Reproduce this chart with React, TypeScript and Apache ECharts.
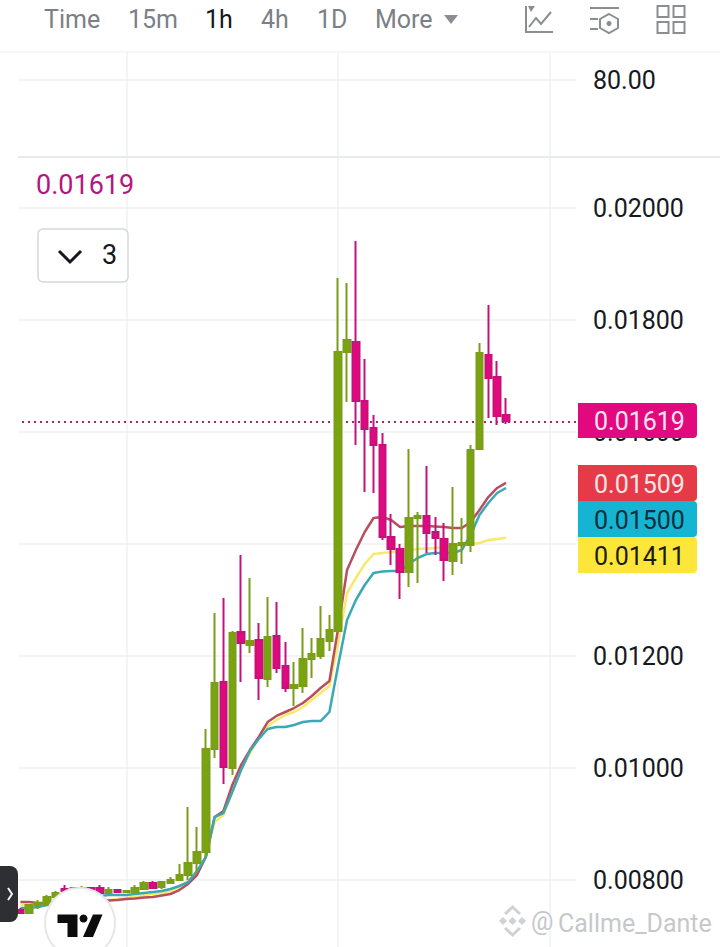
import React, { useEffect, useRef } from "react";
import * as echarts from "echarts";

const categories: string[] = Array.from({ length: 64 }, (_, i) => String(i));

// [open, close, low, high]
const candles: number[][] = [
  [0.007464, 0.007411, 0.007393, 0.0075],
  [0.007411, 0.007554, 0.007393, 0.007554],
  [0.007554, 0.007589, 0.007482, 0.007643],
  [0.007571, 0.007696, 0.007536, 0.007732],
  [0.007696, 0.007768, 0.007679, 0.007804],
  [0.007839, 0.007804, 0.007786, 0.007911],
  [0.007804, 0.007857, 0.007786, 0.007875],
  [0.007821, 0.007857, 0.007804, 0.007893],
  [0.007857, 0.007839, 0.007821, 0.007875],
  [0.007857, 0.007768, 0.00775, 0.007911],
  [0.007768, 0.007821, 0.00775, 0.007875],
  [0.007821, 0.007786, 0.007768, 0.007839],
  [0.007786, 0.007804, 0.007786, 0.007821],
  [0.007786, 0.007857, 0.007786, 0.007911],
  [0.007839, 0.007946, 0.007821, 0.007982],
  [0.007946, 0.007857, 0.007857, 0.007982],
  [0.007875, 0.007964, 0.007839, 0.007964],
  [0.007946, 0.008, 0.007946, 0.008054],
  [0.008, 0.008089, 0.008, 0.008286],
  [0.008089, 0.008304, 0.008, 0.009304],
  [0.008304, 0.0085, 0.008125, 0.008946],
  [0.0085, 0.010339, 0.008411, 0.010696],
  [0.010339, 0.011518, 0.010179, 0.012768],
  [0.011536, 0.010018, 0.009714, 0.013036],
  [0.01, 0.012411, 0.009875, 0.012446],
  [0.012429, 0.012232, 0.011536, 0.013804],
  [0.012196, 0.012268, 0.012054, 0.013393],
  [0.012286, 0.011607, 0.011214, 0.012589],
  [0.011589, 0.012339, 0.011446, 0.013054],
  [0.012357, 0.011786, 0.011696, 0.012964],
  [0.011821, 0.011429, 0.011357, 0.01225],
  [0.011429, 0.011482, 0.011107, 0.011893],
  [0.011464, 0.011946, 0.011339, 0.0125],
  [0.011946, 0.012036, 0.011607, 0.012321],
  [0.012, 0.012304, 0.011946, 0.012893],
  [0.012268, 0.012464, 0.012089, 0.012732],
  [0.012446, 0.017429, 0.012446, 0.01875],
  [0.017429, 0.017643, 0.016536, 0.018661],
  [0.017607, 0.016554, 0.015768, 0.019411],
  [0.016554, 0.016054, 0.014929, 0.017304],
  [0.016071, 0.015768, 0.014911, 0.016304],
  [0.015768, 0.014125, 0.014071, 0.015982],
  [0.014125, 0.013911, 0.013625, 0.014536],
  [0.013911, 0.0135, 0.013018, 0.014],
  [0.0135, 0.014464, 0.013232, 0.015696],
  [0.014464, 0.0145, 0.013304, 0.014571],
  [0.0145, 0.014196, 0.013839, 0.015393],
  [0.014214, 0.014107, 0.013804, 0.014482],
  [0.014089, 0.013714, 0.013339, 0.014375],
  [0.013696, 0.014, 0.013446, 0.015018],
  [0.013982, 0.014018, 0.013643, 0.014464],
  [0.013982, 0.015679, 0.013857, 0.015768],
  [0.015696, 0.017411, 0.015696, 0.017589],
  [0.017375, 0.016964, 0.01625, 0.018268],
  [0.016982, 0.016286, 0.016125, 0.017268],
  [0.016304, 0.01619, 0.016143, 0.016607],
];

const redLine: number[] = [
  0.007607, 0.007607, 0.007589, 0.007589, 0.007589, 0.007607, 0.007607, 0.007607, 0.007625, 0.007625,
  0.007634, 0.007643, 0.007661, 0.00767, 0.007688, 0.007696, 0.007723, 0.00775, 0.007821, 0.007929,
  0.008089, 0.008411, 0.009125, 0.009232, 0.009696, 0.010054, 0.010321, 0.010554, 0.010821, 0.010929,
  0.011, 0.011071, 0.011161, 0.011286, 0.011429, 0.011554, 0.0125, 0.013536, 0.013893, 0.014214,
  0.014464, 0.014482, 0.014429, 0.014304, 0.014321, 0.014321, 0.014321, 0.014313, 0.014304, 0.014286,
  0.014286, 0.014393, 0.014607, 0.014839, 0.015, 0.01509,
];

const yellowLine: number[] = [
  0.007554, 0.007554, 0.007554, 0.007554, 0.007571, 0.007589, 0.007589, 0.007607, 0.007607, 0.007625,
  0.007643, 0.007661, 0.007679, 0.007696, 0.007732, 0.00775, 0.007768, 0.007804, 0.007875, 0.007982,
  0.008125, 0.008411, 0.009036, 0.009161, 0.009571, 0.009964, 0.010268, 0.010536, 0.01075, 0.010857,
  0.010946, 0.011, 0.011089, 0.011214, 0.011339, 0.011464, 0.012232, 0.013125, 0.013393, 0.013643,
  0.013821, 0.013839, 0.013857, 0.013875, 0.013893, 0.013911, 0.01392, 0.013929, 0.013946, 0.013964,
  0.013982, 0.014, 0.014018, 0.014071, 0.014089, 0.01411,
];

const tealLine: number[] = [
  0.0075, 0.0075, 0.007518, 0.007554, 0.007589, 0.007607, 0.007643, 0.007661, 0.007696, 0.007714,
  0.007732, 0.007732, 0.007732, 0.00775, 0.007768, 0.007786, 0.007804, 0.007839, 0.007893, 0.007964,
  0.008161, 0.008411, 0.009125, 0.009196, 0.009571, 0.009964, 0.010304, 0.010518, 0.010696, 0.010732,
  0.010732, 0.010768, 0.010821, 0.010839, 0.010839, 0.011, 0.011839, 0.012643, 0.013, 0.013268,
  0.013482, 0.013509, 0.013518, 0.013518, 0.013643, 0.01375, 0.013821, 0.013839, 0.013839, 0.013839,
  0.013893, 0.014161, 0.014518, 0.014732, 0.014911, 0.015,
];

const lastPrice = 0.01619;
const priceTags = [
  { label: "0.01619", fill: "#e2087e", text: "#fbe3f0", y: 403, h: 35 },
  { label: "0.01509", fill: "#e63a49", text: "#fbe6e6", y: 465, h: 36 },
  { label: "0.01500", fill: "#14b4d2", text: "#0c2f3c", y: 501, h: 36 },
  { label: "0.01411", fill: "#fde63a", text: "#1c1c10", y: 537, h: 36 },
];
const navItems = [
  { label: "Time", x: 44, color: "#7b8087" },
  { label: "15m", x: 128, color: "#7b8087" },
  { label: "1h", x: 205, color: "#15181c" },
  { label: "4h", x: 261, color: "#7b8087" },
  { label: "1D", x: 317, color: "#7b8087" },
  { label: "More", x: 375, color: "#7b8087" },
];

const FONT = "Roboto";
const GRID = "#eff0f2";
const ICON = "#8a8d92";
const MARK = "#cfd1d4";
const gridTick = (i: number) => i % 24 === 12;

const txt = (x: number, y: number, text: string, fill: string, size: number, extra: any = {}) => ({
  type: "text",
  x,
  y,
  z: 30,
  silent: true,
  style: { text, fill, font: `${size}px ${FONT}`, verticalAlign: "middle", align: "left", ...extra },
});
const ln = (x1: number, y1: number, x2: number, y2: number, stroke: string, lineWidth = 2, z = 30) => ({
  type: "line",
  z,
  silent: true,
  shape: { x1, y1, x2, y2 },
  style: { stroke, lineWidth },
});
const poly = (points: number[][], stroke: string, lineWidth = 2) => ({
  type: "polyline",
  z: 30,
  silent: true,
  shape: { points },
  style: { stroke, lineWidth, fill: "none" },
});
const box = (x: number, y: number, width: number, height: number, style: any, r: any = 0, z = 30) => ({
  type: "rect",
  z,
  silent: true,
  shape: { x, y, width, height, r },
  style,
});
const fillPoly = (points: number[][], fill: string, z = 31) => ({
  type: "polygon",
  z,
  silent: true,
  shape: { points },
  style: { fill },
});

const graphics: any[] = [
  // covers that trim the plot to the visible panel width
  box(0, 52, 18, 895, { fill: "#fff" }, 0, 8),
  box(576, 52, 8, 895, { fill: "#fff" }, 0, 8),
  ln(0, 52, 720, 52, "#f3f4f5", 1.5, 9),
  ln(18, 157, 720, 157, "#e9eaec", 2, 9),
  // navigation
  ...navItems.map((n) => txt(n.x, 19, n.label, n.color, 25)),
  fillPoly([[444, 15], [458, 15], [451, 24]], ICON, 30),
  poly([[526, 6], [526, 32], [553, 32]], ICON),
  fillPoly([[528, 6], [535, 6], [531, 12]], ICON, 30),
  poly([[529, 27], [536, 18], [541, 24], [551, 12]], ICON),
  ln(590, 8, 619, 8, ICON),
  ln(590, 19, 598, 19, ICON),
  ln(590, 29, 598, 29, ICON),
  {
    type: "polygon",
    z: 30,
    silent: true,
    shape: { points: [[609, 14], [618, 19], [618, 28], [609, 33], [600, 28], [600, 19]] },
    style: { stroke: ICON, lineWidth: 2, fill: "none" },
  },
  { type: "circle", z: 30, silent: true, shape: { cx: 609, cy: 23.5, r: 2.5 }, style: { fill: ICON } },
  box(657.5, 6, 11, 11, { stroke: ICON, lineWidth: 2, fill: "none" }),
  box(673.5, 6, 11, 11, { stroke: ICON, lineWidth: 2, fill: "none" }),
  box(657.5, 22, 11, 11, { stroke: ICON, lineWidth: 2, fill: "none" }),
  box(673.5, 22, 11, 11, { stroke: ICON, lineWidth: 2, fill: "none" }),
  // legend
  txt(36, 185, lastPrice.toFixed(5), "#b3177f", 27),
  box(38, 229, 90, 53, { fill: "#fff", stroke: "#d6d8db", lineWidth: 1.5 }, 5),
  poly([[59, 251], [70, 262], [81, 251]], "#15181c", 3),
  txt(102, 255, "3", "#15181c", 27),
  // price tags
  ...priceTags.flatMap((t) => [
    box(578, t.y, 119, t.h, { fill: t.fill }, [0, 4, 4, 0]),
    txt(594, t.y + t.h / 2 + 1, t.label, t.text, 25),
  ]),
  // side handle
  box(0, 866, 18, 56, { fill: "#2e2f33" }, [0, 8, 8, 0]),
  poly([[8, 888], [12, 894], [8, 900]], "#f2f2f2", 2),
  // TradingView badge
  { type: "circle", z: 30, silent: true, shape: { cx: 80, cy: 923, r: 35 }, style: { fill: "#fff", stroke: "#e6e7e8", lineWidth: 2 } },
  fillPoly([[57.5, 914.5], [77.5, 914.5], [77.5, 937], [67.5, 937], [67.5, 923], [57.5, 923]], "#0c0c0c"),
  { type: "circle", z: 31, silent: true, shape: { cx: 83.5, cy: 918.5, r: 4 }, style: { fill: "#0c0c0c" } },
  fillPoly([[93, 914.5], [102.5, 914.5], [93, 937], [83, 937]], "#0c0c0c"),
  // watermark
  fillPoly([[512.5, 917], [516.5, 921], [512.5, 925], [508.5, 921]], MARK),
  fillPoly([[503, 917], [507, 921], [503, 925], [499, 921]], MARK),
  fillPoly([[522, 917], [526, 921], [522, 925], [518, 921]], MARK),
  poly([[505, 914], [512.5, 907], [520, 914]], MARK, 3),
  poly([[505, 928], [512.5, 935], [520, 928]], MARK, 3),
  txt(531, 921, "@", "#c6c8cb", 25),
  txt(558, 923, "Callme_Dante", "#c6c8cb", 25),
];

export default function App() {
  const ref = useRef<HTMLDivElement>(null);
  useEffect(() => {
    const chart = echarts.init(ref.current!, null, { renderer: "svg" });
    const lineSeries = (name: string, data: number[], color: string, z: number) => ({
      name,
      type: "line",
      data,
      z,
      xAxisIndex: 0,
      yAxisIndex: 0,
      showSymbol: false,
      symbol: "none",
      silent: true,
      lineStyle: { color, width: 2.5 },
    });
    const labelStyle = {
      margin: 12,
      fontFamily: FONT,
      fontSize: 25,
      color: "#16191d",
      verticalAlign: "top",
      padding: [-12, 0, 0, 0],
      showMinLabel: false,
      showMaxLabel: false,
    };
    chart.setOption({
      animation: false,
      backgroundColor: "#fff",
      textStyle: { fontFamily: FONT },
      grid: [
        { left: 16, width: 565, top: 157, height: 835 },
        { left: 16, width: 565, top: 52, height: 105 },
      ],
      xAxis: [0, 1].map((gridIndex) => ({
        type: "category",
        gridIndex,
        data: categories,
        boundaryGap: true,
        axisLine: { show: false },
        axisTick: { show: false },
        axisLabel: { show: false },
        splitLine: { show: true, interval: (i: number) => gridTick(i), alignWithLabel: true, lineStyle: { color: GRID, width: 1.5 } },
      })),
      yAxis: [
        {
          type: "value",
          gridIndex: 0,
          position: "right",
          min: 0.006,
          max: 0.0209107,
          interval: 0.002,
          axisLine: { show: false },
          axisTick: { show: false },
          axisLabel: { ...labelStyle, formatter: (v: number) => v.toFixed(5) },
          splitLine: { show: true, showMinLine: false, showMaxLine: false, lineStyle: { color: GRID, width: 1.5 } },
        },
        {
          type: "value",
          gridIndex: 1,
          position: "right",
          min: 0,
          max: 109.09,
          interval: 80,
          axisLine: { show: false },
          axisTick: { show: false },
          axisLabel: { ...labelStyle, formatter: (v: number) => v.toFixed(2) },
          splitLine: { show: true, showMinLine: false, showMaxLine: false, lineStyle: { color: GRID, width: 1.5 } },
        },
      ],
      series: [
        lineSeries("Yellow", yellowLine, "#f7e96c", 3),
        lineSeries("Red", redLine, "#b84f5c", 4),
        lineSeries("Teal", tealLine, "#3ba8b6", 5),
        {
          name: "Price",
          type: "candlestick",
          data: candles,
          z: 6,
          xAxisIndex: 0,
          yAxisIndex: 0,
          barWidth: 7,
          silent: true,
          itemStyle: {
            color: "#78a40f",
            color0: "#e2087e",
            borderColor: "#7b9d1a",
            borderColor0: "#c4127c",
            borderWidth: 2,
          },
          markLine: {
            silent: true,
            symbol: "none",
            precision: 5,
            label: { show: false },
            lineStyle: { color: "#9c2a73", type: [2, 4], width: 2 },
            data: [{ yAxis: lastPrice }],
          },
        },
      ],
      graphic: { elements: graphics },
    });
    return () => chart.dispose();
  }, []);
  return (
    <div style={{ position: "absolute", left: 0, top: 0, width: 720, height: 947, overflow: "hidden", background: "#fff" }}>
      <div ref={ref} style={{ width: 720, height: 1000 }} />
    </div>
  );
}
